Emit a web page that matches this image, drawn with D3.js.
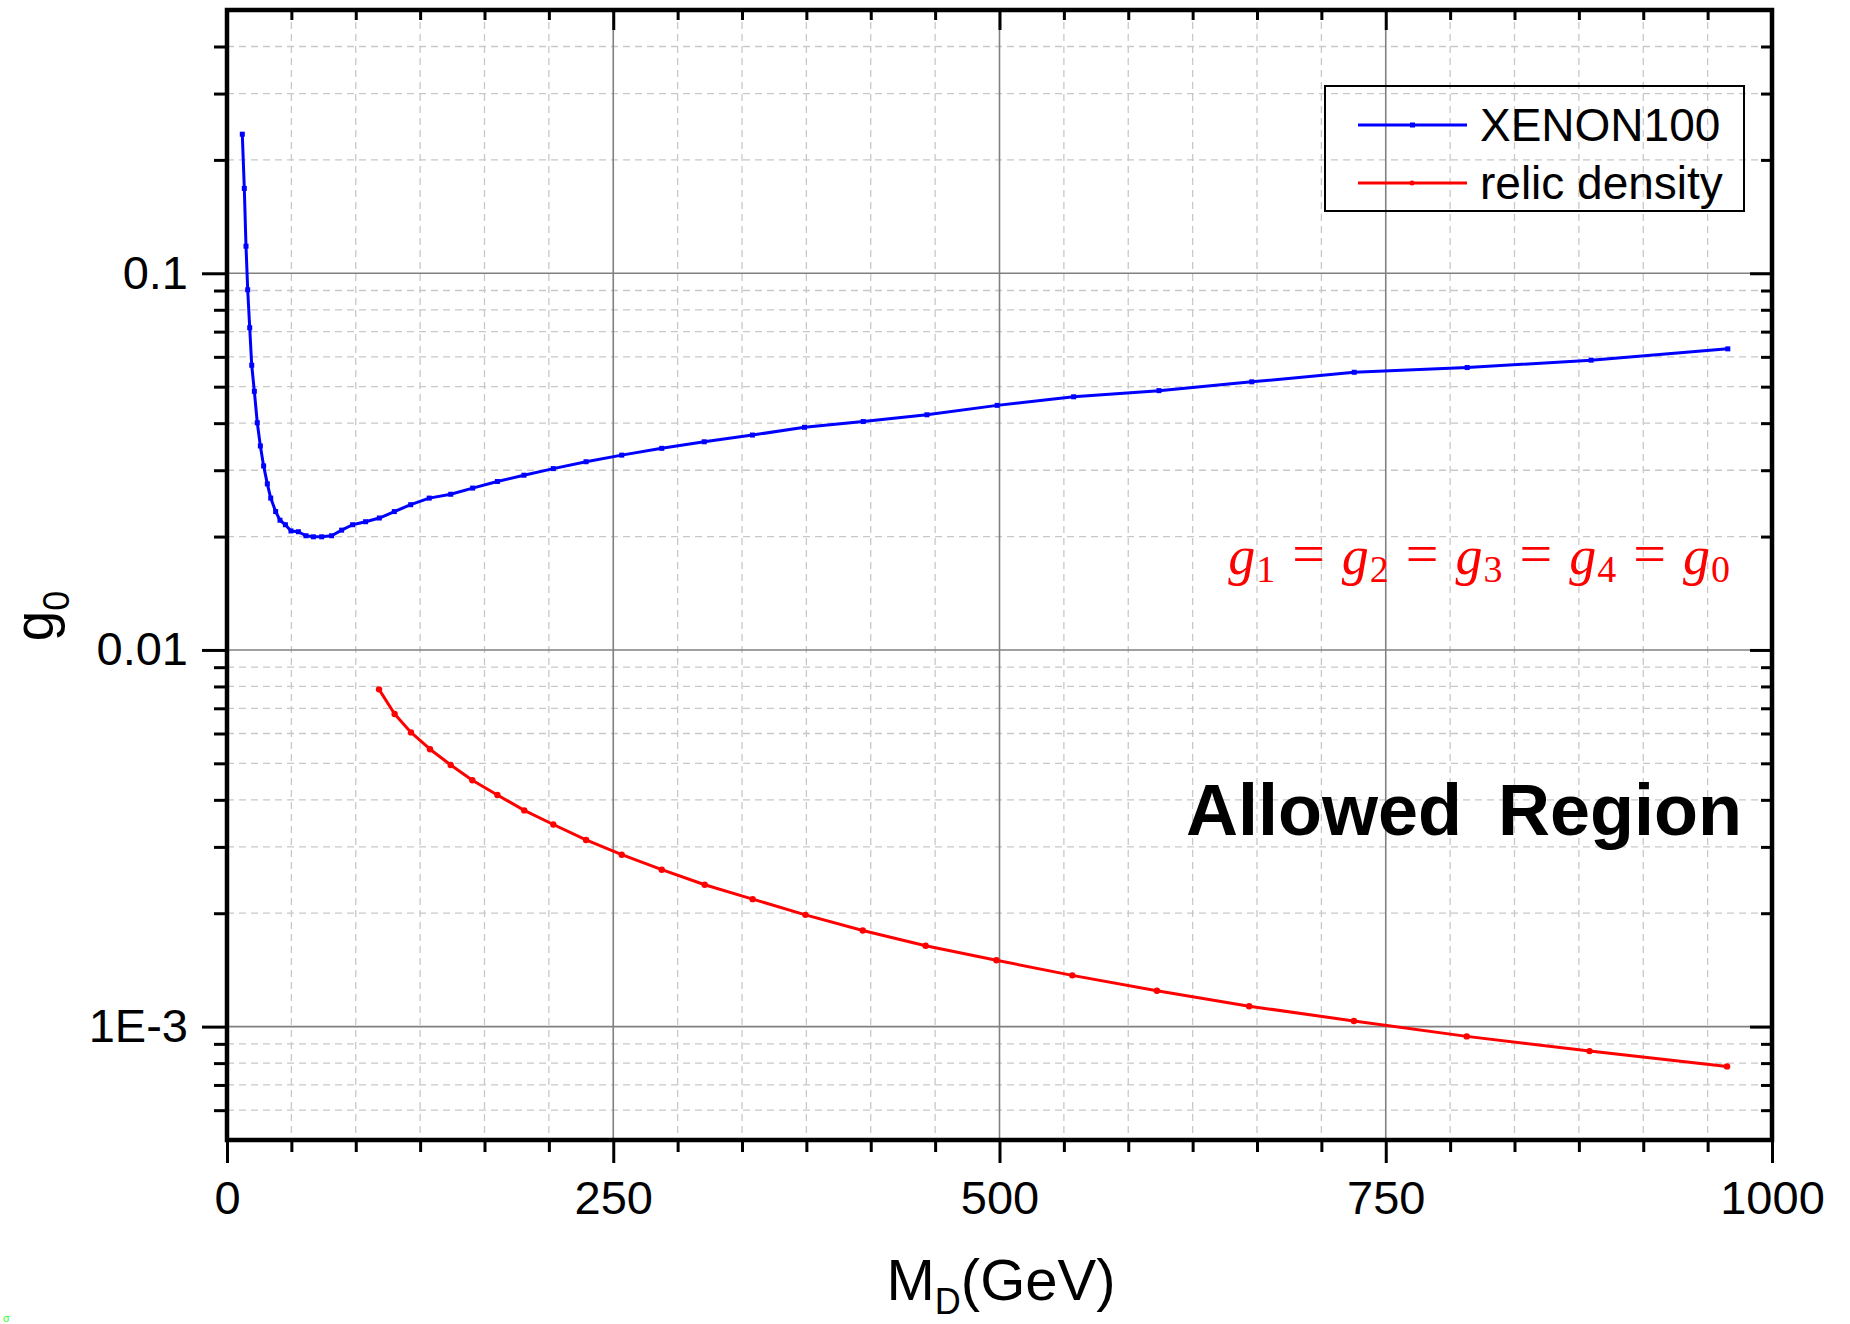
<!DOCTYPE html>
<html>
<head>
<meta charset="utf-8">
<script src="https://cdn.jsdelivr.net/npm/d3@7"></script>
<style>
  body { margin: 0; background: #fff; }
</style>
</head>
<body>
<div id="viz"></div>
<script>
// values
const xenonMass = [9.9, 11.2, 12.3, 13.4, 14.7, 16.0, 17.7, 19.6, 21.6, 23.7, 26.1, 28.3, 31.5, 34.3, 37.8, 41.4, 46.2, 51.1, 55.9, 61.3, 67.7, 74.2, 81.3, 89.7, 98.6, 108.3, 118.9, 130.9, 144.8, 159.0, 175.0, 192.2, 211.2, 232.4, 255.5, 281.4, 308.9, 340.1, 373.8, 411.8, 453.0, 498.5, 548.0, 603.2, 663.3, 729.6, 802.7, 882.9, 971.4];
const xenonG = [0.234, 0.168, 0.118, 0.0904, 0.0717, 0.057, 0.0486, 0.0401, 0.0348, 0.0308, 0.0276, 0.0253, 0.0233, 0.0221, 0.0215, 0.0207, 0.0206, 0.0201, 0.01997, 0.01997, 0.0201, 0.0208, 0.0215, 0.0219, 0.0224, 0.0233, 0.0243, 0.0253, 0.0259, 0.0269, 0.0280, 0.0291, 0.0303, 0.0316, 0.0329, 0.0343, 0.0357, 0.0372, 0.0390, 0.0404, 0.0421, 0.0446, 0.0470, 0.0488, 0.0515, 0.0546, 0.0562, 0.0588, 0.0630];

const relicMass = [98.4, 108.5, 119.1, 131.4, 144.8, 158.8, 175.0, 192.4, 211.2, 232.4, 255.5, 281.4, 309.2, 340.2, 374.4, 411.5, 452.2, 498.0, 547.1, 601.9, 661.6, 729.4, 802.4, 881.9, 970.9];
const relicG = [0.00786, 0.00676, 0.00604, 0.00545, 0.00495, 0.00451, 0.00412, 0.00375, 0.00344, 0.00313, 0.00286, 0.00261, 0.00238, 0.00218, 0.00198, 0.00180, 0.00164, 0.00150, 0.001368, 0.001245, 0.001133, 0.001035, 0.000942, 0.000861, 0.000784];

const xMajorTicks = [0, 250, 500, 750, 1000];
const xMinorStep = 250 / 6;
const yMajorTicks = [1e-3, 1e-2, 1e-1];
const yTickLabels = ["1E-3", "0.01", "0.1"];
const yMinorTicks = [6e-4, 7e-4, 8e-4, 9e-4, 2e-3, 3e-3, 4e-3, 5e-3, 6e-3, 7e-3, 8e-3, 9e-3,
                     2e-2, 3e-2, 4e-2, 5e-2, 6e-2, 7e-2, 8e-2, 9e-2, 0.2, 0.3, 0.4];

const seriesNames = ["XENON100", "relic density"];
const seriesColors = ["#0000ff", "#ff0000"];

const sans = "'Liberation Sans', Arial, sans-serif";
const serif = "'Liberation Serif', 'DejaVu Serif', serif";

const width = 1850, height = 1324;
const margin = {left: 227, right: 78, top: 10, bottom: 184};
const innerW = width - margin.left - margin.right;
const innerH = height - margin.top - margin.bottom;

const svg = d3.select("#viz").append("svg")
  .attr("width", width)
  .attr("height", height)
  .style("background-color", "#fff")
  .style("font-family", sans);

const g = svg.append("g")
  .attr("transform", `translate(${margin.left}, ${margin.top})`);

const xScale = d3.scaleLinear().domain([0, 1000]).range([0, innerW]);
const yScale = d3.scaleLog().domain([5e-4, 0.5]).range([innerH, 0]);

const xMinorTicks = d3.range(0, 1000.01, xMinorStep)
  .filter(v => !xMajorTicks.some(m => Math.abs(m - v) < 1e-6));

// grid
const grid = g.append("g");
grid.selectAll(".xminor")
  .data(xMinorTicks)
  .join("line")
  .attr("x1", d => xScale(d)).attr("x2", d => xScale(d))
  .attr("y1", 0).attr("y2", innerH)
  .attr("stroke", "#c8c8c8").attr("stroke-width", 1.3)
  .attr("stroke-dasharray", "7,5");
grid.selectAll(".yminor")
  .data(yMinorTicks)
  .join("line")
  .attr("x1", 0).attr("x2", innerW)
  .attr("y1", d => yScale(d)).attr("y2", d => yScale(d))
  .attr("stroke", "#c8c8c8").attr("stroke-width", 1.3)
  .attr("stroke-dasharray", "7,5");
grid.selectAll(".xmajor")
  .data(xMajorTicks.slice(1, -1))
  .join("line")
  .attr("x1", d => xScale(d)).attr("x2", d => xScale(d))
  .attr("y1", 0).attr("y2", innerH)
  .attr("stroke", "#808080").attr("stroke-width", 1.6);
grid.selectAll(".ymajor")
  .data(yMajorTicks)
  .join("line")
  .attr("x1", 0).attr("x2", innerW)
  .attr("y1", d => yScale(d)).attr("y2", d => yScale(d))
  .attr("stroke", "#808080").attr("stroke-width", 1.6);

// axes
function styleAxis(sel) {
  sel.select(".domain").remove();
  sel.selectAll(".tick line").attr("stroke", "#000").attr("stroke-width", 3);
  sel.selectAll(".tick text")
    .style("font-family", sans)
    .style("font-size", "47px").attr("fill", "#000");
}

g.append("g").attr("transform", `translate(0, ${innerH})`)
  .call(d3.axisBottom(xScale).tickValues(xMinorTicks).tickSize(12).tickFormat(""))
  .call(styleAxis);
g.append("g").attr("transform", `translate(0, ${innerH})`)
  .call(d3.axisBottom(xScale).tickValues(xMajorTicks).tickSize(23).tickPadding(18).tickFormat(d3.format("d")))
  .call(styleAxis);
g.append("g")
  .call(d3.axisTop(xScale).tickValues(xMinorTicks).tickSize(-10).tickFormat(""))
  .call(styleAxis);
g.append("g")
  .call(d3.axisTop(xScale).tickValues(xMajorTicks).tickSize(-20).tickFormat(""))
  .call(styleAxis);

g.append("g")
  .call(d3.axisLeft(yScale).tickValues(yMinorTicks).tickSize(13).tickFormat(""))
  .call(styleAxis);
g.append("g")
  .call(d3.axisLeft(yScale).tickValues(yMajorTicks).tickSize(25).tickPadding(14)
    .tickFormat((d, i) => yTickLabels[i]))
  .call(styleAxis);
g.append("g").attr("transform", `translate(${innerW}, 0)`)
  .call(d3.axisRight(yScale).tickValues(yMinorTicks).tickSize(-11).tickFormat(""))
  .call(styleAxis);
g.append("g").attr("transform", `translate(${innerW}, 0)`)
  .call(d3.axisRight(yScale).tickValues(yMajorTicks).tickSize(-22).tickFormat(""))
  .call(styleAxis);

// frame
g.append("rect")
  .attr("x", 0).attr("y", 0)
  .attr("width", innerW).attr("height", innerH)
  .attr("fill", "none").attr("stroke", "#000").attr("stroke-width", 4.5);

// curves
const xenonData = xenonMass.map((m, i) => ({m, v: xenonG[i]}));
const relicData = relicMass.map((m, i) => ({m, v: relicG[i]}));

const line = d3.line().x(d => xScale(d.m)).y(d => yScale(d.v));

g.append("path").datum(xenonData)
  .attr("d", line).attr("fill", "none")
  .attr("stroke", seriesColors[0]).attr("stroke-width", 3).attr("stroke-linejoin", "round");
g.append("g").selectAll("rect")
  .data(xenonData)
  .join("rect")
  .attr("x", d => xScale(d.m) - 2.5).attr("y", d => yScale(d.v) - 2.5)
  .attr("width", 5).attr("height", 5)
  .attr("fill", seriesColors[0]);

g.append("path").datum(relicData)
  .attr("d", line).attr("fill", "none")
  .attr("stroke", seriesColors[1]).attr("stroke-width", 3).attr("stroke-linejoin", "round");
g.append("g").selectAll("circle")
  .data(relicData)
  .join("circle")
  .attr("cx", d => xScale(d.m)).attr("cy", d => yScale(d.v))
  .attr("r", 3.2)
  .attr("fill", seriesColors[1]);

// legend
const legend = svg.append("g");
legend.append("rect")
  .attr("x", 1325).attr("y", 86).attr("width", 419).attr("height", 125)
  .attr("fill", "none").attr("stroke", "#000").attr("stroke-width", 2);
seriesNames.forEach((name, i) => {
  const ly = 125 + i * 58;
  legend.append("line")
    .attr("x1", 1358).attr("x2", 1467).attr("y1", ly).attr("y2", ly)
    .attr("stroke", seriesColors[i]).attr("stroke-width", 3);
  if (i === 0) {
    legend.append("rect").attr("x", 1410).attr("y", ly - 2.5).attr("width", 5).attr("height", 5)
      .attr("fill", seriesColors[i]);
  } else {
    legend.append("circle").attr("cx", 1412).attr("cy", ly).attr("r", 2.5)
      .attr("fill", seriesColors[i]);
  }
  legend.append("text")
    .attr("x", 1480).attr("y", ly + 16)
    .style("font-size", "46px").attr("fill", "#000")
    .text(name);
});

// axis titles
const xTitle = svg.append("text")
  .attr("x", 1001).attr("y", 1300)
  .attr("text-anchor", "middle")
  .style("font-size", "58px").attr("fill", "#000");
xTitle.append("tspan").text("M");
xTitle.append("tspan").style("font-size", "36px").attr("dy", 14).text("D");
xTitle.append("tspan").attr("dy", -14).text("(GeV)");

const yTitle = svg.append("text")
  .attr("transform", "translate(53, 616) rotate(-90)")
  .attr("text-anchor", "middle")
  .style("font-size", "55px").attr("fill", "#000");
yTitle.append("tspan").text("g");
yTitle.append("tspan").style("font-size", "36px").attr("dy", 16).text("0");

// annotation: g1 = g2 = g3 = g4 = g0, right edge at x = 1730
const eq = svg.append("g").attr("fill", "#ff0000");
const eqParts = ["1", "2", "3", "4", "0"];
let cx = 0;
const eqBase = 574;
eqParts.forEach((sub, i) => {
  const gt = eq.append("text").attr("x", cx).attr("y", eqBase)
    .style("font-family", serif)
    .style("font-style", "italic").style("font-size", "54px").text("g");
  cx += gt.node().getComputedTextLength() + 1;
  const st = eq.append("text").attr("x", cx).attr("y", eqBase + 8)
    .style("font-family", serif)
    .style("font-size", "38px").text(sub);
  cx += st.node().getComputedTextLength();
  if (i < eqParts.length - 1) {
    cx += 17;
    const et = eq.append("text").attr("x", cx).attr("y", eqBase - 1)
      .style("font-family", serif)
      .style("font-size", "58px").text("=");
    cx += et.node().getComputedTextLength() + 17;
  }
});
eq.attr("transform", `translate(${1730 - cx}, 0)`);

// region label
svg.append("text")
  .attr("x", 1742).attr("y", 835)
  .attr("text-anchor", "end")
  .style("font-size", "72px").style("font-weight", "bold")
  .style("word-spacing", "16px")
  .attr("fill", "#000")
  .text("Allowed Region");

svg.append("text")
  .attr("x", 3).attr("y", 1322)
  .style("font-size", "11px").attr("fill", "#33ff33")
  .text("σ");
</script>
</body>
</html>
